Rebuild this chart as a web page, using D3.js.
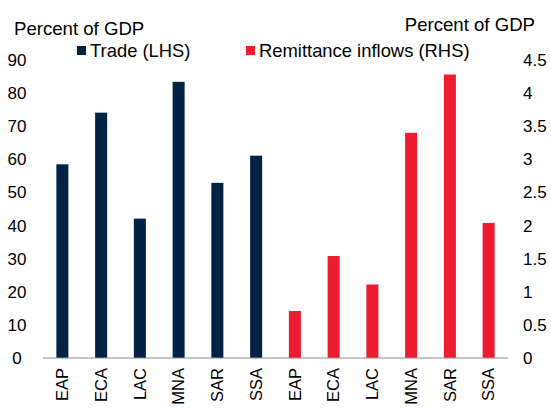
<!DOCTYPE html>
<html>
<head>
<meta charset="utf-8">
<script src="https://d3js.org/d3.v7.min.js"></script>
<style>
  body { margin: 0; background: #fff; }
  text { font-family: "Liberation Sans", Arial, sans-serif; fill: #000; }
</style>
</head>
<body>
<div id="chart"></div>
<script>
// Données
let regions = ["EAP", "ECA", "LAC", "MNA", "SAR", "SSA"];
let trade = [58.5, 74.1, 42.1, 83.4, 52.9, 61.1];          // % du PIB (LHS)
let remittances = [0.71, 1.54, 1.11, 3.4, 4.28, 2.04];     // % du PIB (RHS)
let leftTicks = [0, 10, 20, 30, 40, 50, 60, 70, 80, 90];
let rightTicks = [0, 0.5, 1, 1.5, 2, 2.5, 3, 3.5, 4, 4.5];

let W = 551, H = 408;
let margins = { left: 43, right: 43, top: 60, bottom: 50 };
let width = W - margins.left - margins.right;
let height = H - margins.top - margins.bottom;

let svg = d3.select("#chart")
            .append("svg")
            .attr("width", W)
            .attr("height", H);

let g = svg.append("g")
           .attr("transform", `translate(${margins.left},${margins.top})`);

// Une catégorie par barre : les 6 régions pour Trade puis pour Remittances
let bars = trade.map((v, i) => ({ key: "t" + i, label: regions[i], value: v, series: "trade" }))
  .concat(remittances.map((v, i) => ({ key: "r" + i, label: regions[i], value: v, series: "rem" })));

let xScale = d3.scaleBand()
               .domain(bars.map(d => d.key))
               .range([0, width])
               .paddingInner(0.69)
               .paddingOuter(0.345);

let yLeft = d3.scaleLinear().domain([0, 90]).range([height, 0]);
let yRight = d3.scaleLinear().domain([0, 4.5]).range([height, 0]);

let colors = { trade: "#002345", rem: "#ED1C2E" };

// Barres
g.append("g")
 .selectAll("rect")
 .data(bars)
 .enter()
 .append("rect")
 .attr("x", d => xScale(d.key))
 .attr("width", xScale.bandwidth())
 .attr("y", d => d.series === "trade" ? yLeft(d.value) : yRight(d.value))
 .attr("height", d => height - (d.series === "trade" ? yLeft(d.value) : yRight(d.value)))
 .style("fill", d => colors[d.series]);

// Axe des x
g.append("line")
 .attr("x1", 0).attr("x2", width)
 .attr("y1", height).attr("y2", height)
 .style("stroke", "#8c8c8c")
 .style("stroke-width", 1);

g.append("g")
 .selectAll("text")
 .data(bars)
 .enter()
 .append("text")
 .attr("transform", d => `translate(${xScale(d.key) + xScale.bandwidth() / 2},${height + 10}) rotate(-90)`)
 .attr("text-anchor", "end")
 .attr("dy", "0.35em")
 .style("font-size", "16.5px")
 .text(d => d.label);

// Axes verticaux (étiquettes seulement)
let leftAxis = g.append("g")
                .call(d3.axisLeft(yLeft).tickValues(leftTicks).tickSize(0).tickPadding(0));
leftAxis.select(".domain").remove();
leftAxis.selectAll("text")
        .attr("x", -26)
        .attr("text-anchor", "middle")
        .style("font-size", "17px")
        .style("font-family", "Liberation Sans, Arial, sans-serif");

let rightAxis = g.append("g")
                 .attr("transform", `translate(${width},0)`)
                 .call(d3.axisRight(yRight).tickValues(rightTicks).tickSize(0).tickPadding(0).tickFormat(d3.format("")));
rightAxis.select(".domain").remove();
rightAxis.selectAll("text")
         .attr("x", 15)
         .attr("text-anchor", "start")
         .style("font-size", "17px")
         .style("font-family", "Liberation Sans, Arial, sans-serif");

// Titres des axes
svg.append("text")
   .attr("x", 14).attr("y", 35)
   .style("font-size", "18.6px")
   .text("Percent of GDP");

svg.append("text")
   .attr("x", 535).attr("y", 31)
   .attr("text-anchor", "end")
   .style("font-size", "18.6px")
   .text("Percent of GDP");

// Légende
let legendItems = [
  { label: "Trade (LHS)", color: colors.trade, x: 77 },
  { label: "Remittance inflows (RHS)", color: colors.rem, x: 246 }
];
let legend = svg.append("g").selectAll("g")
                .data(legendItems)
                .enter()
                .append("g")
                .attr("transform", d => `translate(${d.x},46)`);
legend.append("rect")
      .attr("width", 9).attr("height", 9)
      .style("fill", d => d.color);
legend.append("text")
      .attr("x", 13).attr("y", 11)
      .style("font-size", "18.4px")
      .text(d => d.label);
</script>
</body>
</html>
